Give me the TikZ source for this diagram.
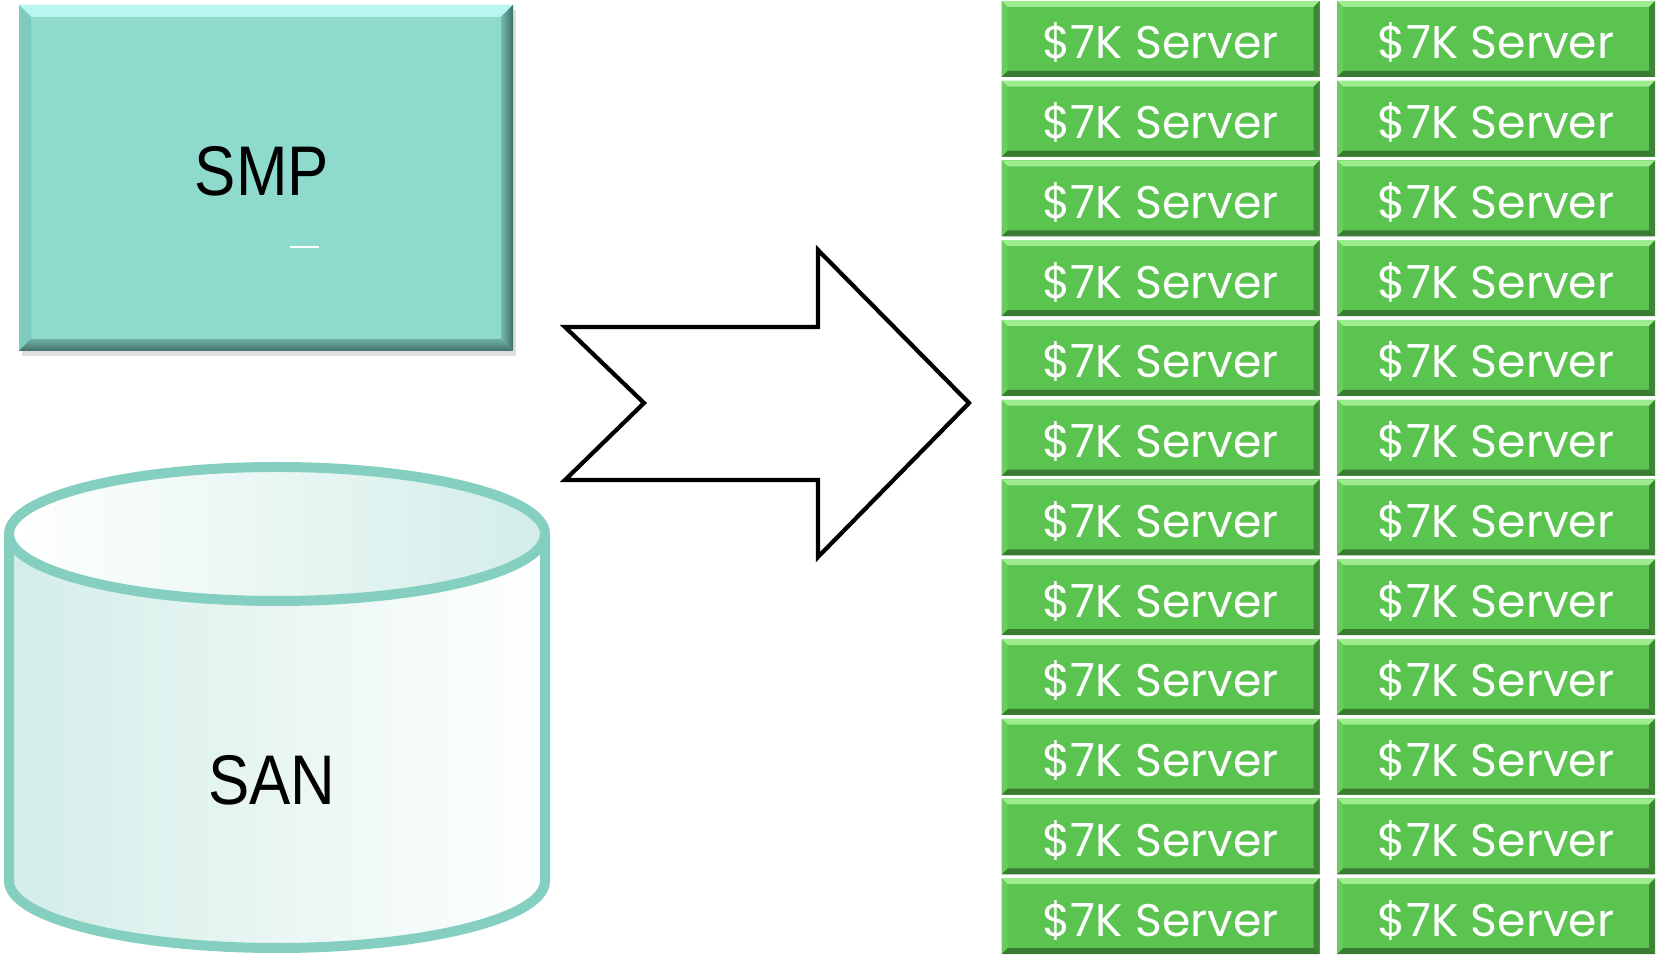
\documentclass[tikz,border=0pt]{standalone}
\usepackage{fontspec}
\setmainfont{Liberation Sans}
\newfontfamily\srvfont{Poppins}
\usetikzlibrary{shadows}
\definecolor{smpmain}{HTML}{8EDBCE}
\definecolor{smplight}{HTML}{B8F6EF}
\definecolor{smpleft}{HTML}{80CBBF}
\definecolor{smpdark}{HTML}{3F6F68}
\definecolor{srvmain}{HTML}{5BC350}
\definecolor{srvlight}{HTML}{9DEC8E}
\definecolor{srvleft}{HTML}{68CD5D}
\definecolor{srvdark}{HTML}{3E8535}
\definecolor{srvbot}{HTML}{3A7A32}
\definecolor{sanline}{HTML}{84CFC0}
\definecolor{sanfill}{HTML}{D3EDE8}
\tikzset{
	bevel/.style n args={5}{path picture={
		\fill[#2] (path picture bounding box.north west) -- (path picture bounding box.north east) -- ([xshift=-#1,yshift=-#1]path picture bounding box.north east) -- ([xshift=#1,yshift=-#1]path picture bounding box.north west) -- cycle;
		\fill[#3] (path picture bounding box.north west) -- (path picture bounding box.south west) -- ([xshift=#1,yshift=#1]path picture bounding box.south west) -- ([xshift=#1,yshift=-#1]path picture bounding box.north west) -- cycle;
		\fill[#4] (path picture bounding box.north east) -- (path picture bounding box.south east) -- ([xshift=-#1,yshift=#1]path picture bounding box.south east) -- ([xshift=-#1,yshift=-#1]path picture bounding box.north east) -- cycle;
		\fill[#5] (path picture bounding box.south west) -- (path picture bounding box.south east) -- ([xshift=-#1,yshift=#1]path picture bounding box.south east) -- ([xshift=#1,yshift=#1]path picture bounding box.south west) -- cycle;
	}},
	bigtext/.style={font=\fontsize{20pt}{24pt}\selectfont,xscale=0.88,transform shape},
	smpbox/.style={fill=smpmain,minimum width=49.4mm,minimum height=34.6mm,inner sep=0pt,
		bevel={1.2mm}{top color=smplight,bottom color=smpmain!60!smplight}{smpleft}{left color=smpmain!70!smpdark,right color=smpdark}{top color=smpmain!60!smpdark,bottom color=smpdark}},
	server/.style={fill=srvmain,minimum width=31.8mm,minimum height=7.6mm,inner sep=0pt,text=white,
		text height=4.4mm,text depth=0.4mm,
		font=\srvfont\fontsize{13pt}{15pt}\selectfont,bevel={0.6mm}{srvlight}{srvleft}{srvdark}{srvbot}}
}
\begin{document}
\begin{tikzpicture}[x=0.1mm,y=0.1mm]
	\useasboundingbox (0,0) rectangle (1656,958);
	% SMP
	\node[smpbox,drop shadow={shadow xshift=0.3mm,shadow yshift=-0.5mm,opacity=0.25}] (smp) at (266,780) {};
	\node[bigtext] (smptext) at (262,787) {SMP};
	\draw[white,line width=0.2mm] (290,711) -- (319,711);
	% SAN
	\def\rx{268}
	\def\ry{67}
	\shade[left color=sanfill,right color=white] (9,424) -- (9,77) arc[start angle=180,end angle=360,x radius=\rx,y radius=\ry] -- (545,424) -- cycle;
	\draw[sanline,line width=1mm] (9,424) -- (9,77) arc[start angle=180,end angle=360,x radius=\rx,y radius=\ry] -- (545,424);
	\shadedraw[left color=white,right color=sanfill,draw=sanline,line width=1mm] (277,424) ellipse[x radius=\rx,y radius=\ry];
	\node[bigtext] (san) at (272,178) {SAN};
	% arrow
	\draw[line width=1.2pt,fill=white] (565,631) -- (818,631) -- (818,708) -- (969,555) -- (818,401) -- (818,478) -- (565,478) -- (644,555) -- cycle;
	% servers
	\foreach \i in {0,...,11}{
		\node[server] (srvl\i) at (1160.5,{919-79.75*\i}) {\$7K Server};
		\node[server] (srvr\i) at (1496,{919-79.75*\i}) {\$7K Server};
	}
\end{tikzpicture}
\end{document}
